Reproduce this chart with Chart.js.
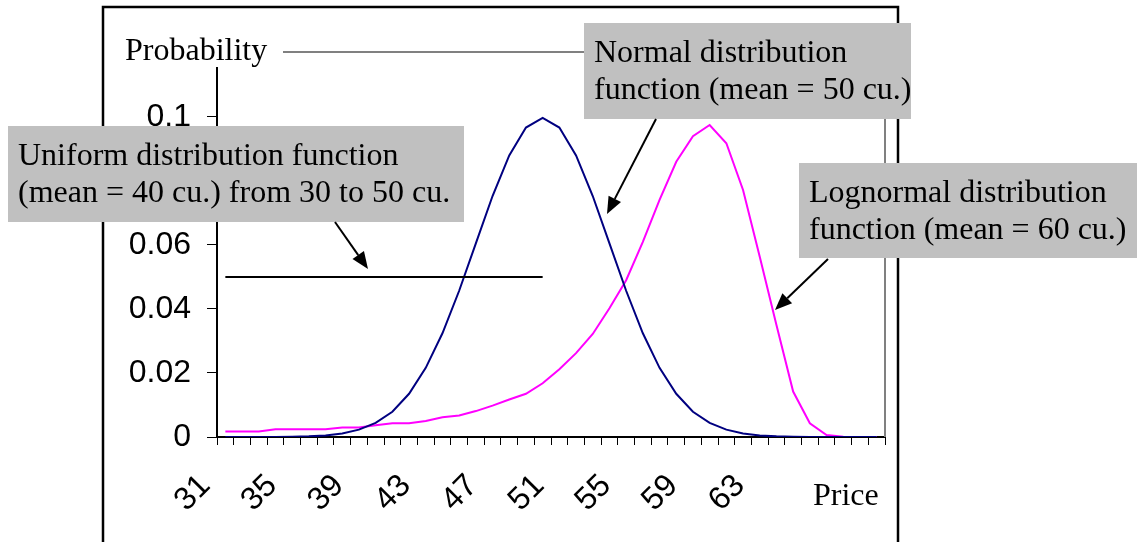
<!DOCTYPE html>
<html>
<head>
<meta charset="utf-8">
<script src="https://cdn.jsdelivr.net/npm/chart.js@4.4.1/dist/chart.umd.min.js"></script>
<style>
  html, body { margin: 0; padding: 0; background: #fff; }
  #wrap { position: relative; width: 1138px; height: 542px; }
</style>
</head>
<body>
<div id="wrap"><canvas id="chart" width="1138" height="542"></canvas></div>
<script>
// prices, one category per currency unit (31 .. 70)
const prices = [31, 32, 33, 34, 35, 36, 37, 38, 39, 40,
                41, 42, 43, 44, 45, 46, 47, 48, 49, 50,
                51, 52, 53, 54, 55, 56, 57, 58, 59, 60,
                61, 62, 63, 64, 65, 66, 67, 68, 69, 70];
const priceLabels = [31, 35, 39, 43, 47, 51, 55, 59, 63];
const probTicks = [0, 0.02, 0.04, 0.06, 0.08, 0.1];

// probabilities per price
const normal = [0, 0, 0, 0, 0.0001, 0.0002, 0.0005, 0.0011, 0.0023, 0.0044,
                0.0079, 0.0135, 0.0216, 0.0324, 0.0457, 0.0605, 0.0753, 0.088, 0.0967, 0.0997,
                0.0967, 0.088, 0.0753, 0.0605, 0.0457, 0.0324, 0.0216, 0.0135, 0.0079, 0.0044,
                0.0023, 0.0011, 0.0005, 0.0002, 0.0001, 0, 0, 0, 0, 0];
const lognormal = [0.0017, 0.0017, 0.0017, 0.0024, 0.0024, 0.0024, 0.0024, 0.003, 0.003, 0.0037,
                   0.0043, 0.0043, 0.005, 0.0062, 0.0067, 0.0081, 0.0098, 0.0117, 0.0135, 0.0168,
                   0.0212, 0.0262, 0.0322, 0.0402, 0.049, 0.061, 0.0741, 0.086, 0.094, 0.0975,
                   0.0918, 0.0772, 0.0563, 0.035, 0.0142, 0.0043, 0.0006, 0.0001, 0, 0];
const uniform = [0.05, 0.05, 0.05, 0.05, 0.05, 0.05, 0.05, 0.05, 0.05, 0.05,
                 0.05, 0.05, 0.05, 0.05, 0.05, 0.05, 0.05, 0.05, 0.05, 0.05,
                 null, null, null, null, null, null, null, null, null, null,
                 null, null, null, null, null, null, null, null, null, null];

const serif = "'Liberation Serif', 'Times New Roman', serif";
const sans = "'Liberation Sans', Arial, sans-serif";

// callout boxes: rect + two lines of text + arrow
const callouts = [
  { box: [8, 126, 456, 96], lines: ["Uniform distribution function", "(mean = 40 cu.) from 30 to 50 cu."], arrow: [335, 222, 368, 269] },
  { box: [584, 23, 327, 96], lines: ["Normal distribution", "function (mean = 50 cu.)"], arrow: [656, 119, 607, 214] },
  { box: [799, 163, 338, 95], lines: ["Lognormal distribution", "function (mean = 60 cu.)"], arrow: [828, 259, 775, 310] }
];

function arrow(ctx, x1, y1, x2, y2) {
  const ang = Math.atan2(y2 - y1, x2 - x1);
  const len = 17, half = 7;
  const bx = x2 - len * Math.cos(ang), by = y2 - len * Math.sin(ang);
  ctx.strokeStyle = "#000";
  ctx.lineWidth = 2;
  ctx.beginPath();
  ctx.moveTo(x1, y1);
  ctx.lineTo(bx, by);
  ctx.stroke();
  ctx.fillStyle = "#000";
  ctx.beginPath();
  ctx.moveTo(x2, y2);
  ctx.lineTo(bx + half * Math.sin(ang), by - half * Math.cos(ang));
  ctx.lineTo(bx - half * Math.sin(ang), by + half * Math.cos(ang));
  ctx.closePath();
  ctx.fill();
}

const decor = {
  id: "decor",
  beforeDatasetsDraw(chart) {
    const ctx = chart.ctx, a = chart.chartArea;
    ctx.save();
    // gray plot frame, top and right
    ctx.strokeStyle = "#808080";
    ctx.lineWidth = 2;
    ctx.beginPath();
    ctx.moveTo(283, a.top - 16);
    ctx.lineTo(a.right, a.top - 16);
    ctx.lineTo(a.right, a.bottom);
    ctx.stroke();
    ctx.restore();
  },
  afterDraw(chart) {
    const ctx = chart.ctx;
    ctx.save();
    // outer frame, under the callouts
    ctx.strokeStyle = "#000";
    ctx.lineWidth = 2.5;
    ctx.strokeRect(103, 7, 795, 560);

    ctx.fillStyle = "#000";
    ctx.font = "32px " + serif;
    ctx.textBaseline = "alphabetic";
    ctx.fillText("Probability", 125, 60);
    ctx.fillText("Price", 813, 505);

    callouts.forEach(c => {
      const [x, y, w, h] = c.box;
      ctx.fillStyle = "#c0c0c0";
      ctx.fillRect(x, y, w, h);
      ctx.fillStyle = "#000";
      ctx.font = "32px " + serif;
      ctx.fillText(c.lines[0], x + 10, y + 39);
      ctx.fillText(c.lines[1], x + 10, y + 76);
      arrow(ctx, ...c.arrow);
    });
    ctx.restore();
  }
};

new Chart(document.getElementById("chart"), {
  type: "line",
  data: {
    labels: prices,
    datasets: [
      { label: "Uniform", data: uniform, borderColor: "#000", borderWidth: 2, pointRadius: 0, spanGaps: false },
      { label: "Normal", data: normal, borderColor: "#000080", borderWidth: 2, pointRadius: 0 },
      { label: "Lognormal", data: lognormal, borderColor: "#ff00ff", borderWidth: 2, pointRadius: 0 }
    ]
  },
  options: {
    responsive: false,
    animation: false,
    events: [],
    layout: { padding: { left: 0, top: 68, right: 253, bottom: 0 } },
    plugins: { legend: { display: false }, tooltip: { enabled: false } },
    elements: { line: { tension: 0 } },
    scales: {
      x: {
        offset: true,
        afterFit: s => { s.height = 105; },
        grid: { offset: true, drawOnChartArea: false, drawTicks: true, tickLength: 8, color: "#000", lineWidth: 1 },
        border: { display: true, color: "#000", width: 2 },
        ticks: {
          autoSkip: false,
          minRotation: 45,
          maxRotation: 45,
          labelOffset: -20,
          padding: 22,
          color: "#000",
          font: { family: sans, size: 32 },
          callback: function (v) {
            const p = this.getLabelForValue(v);
            return priceLabels.includes(p) ? String(p) : "";
          }
        }
      },
      y: {
        min: 0,
        max: 0.1153,
        afterFit: s => { s.width = 217; },
        afterBuildTicks: s => { s.ticks = probTicks.map(v => ({ value: v })); },
        grid: { drawOnChartArea: false, drawTicks: true, tickLength: 10, color: "#000", lineWidth: 1 },
        border: { display: true, color: "#000", width: 2 },
        ticks: {
          padding: 16,
          color: "#000",
          font: { family: sans, size: 32 },
          callback: v => String(v)
        }
      }
    }
  },
  plugins: [decor]
});
</script>
</body>
</html>
